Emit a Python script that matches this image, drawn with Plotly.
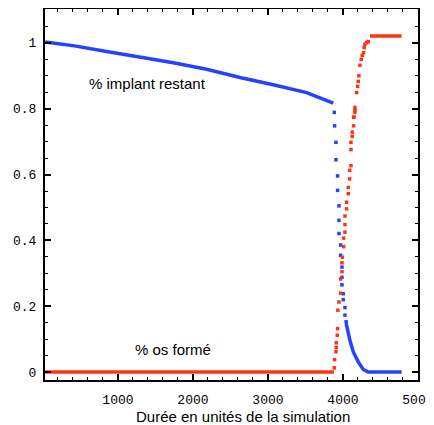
import plotly.graph_objects as go

# % implant restant (blue) - dense part drawn as a line, sparse drop as points
implant_dense_t = [30, 420, 849, 1293, 1738, 2182, 2627, 3071, 3516, 3871]
implant_dense_v = [1.003, 0.991, 0.974, 0.958, 0.940, 0.920, 0.895, 0.873, 0.849, 0.817]
implant_drop_t = [3884, 3889, 3907, 3907, 3929, 3929, 3947, 3947, 3947, 3969, 3969,
                  3987, 3987, 3987, 4004, 4004, 4027, 4027]
implant_drop_v = [0.789, 0.748, 0.698, 0.645, 0.596, 0.552, 0.505, 0.461, 0.421, 0.386,
                  0.355, 0.319, 0.288, 0.265, 0.238, 0.220, 0.196, 0.173]
implant_tail_t = [4040, 4049, 4093, 4137, 4204, 4271, 4337, 4783]
implant_tail_v = [0.158, 0.142, 0.097, 0.062, 0.031, 0.008, 0.0, 0.0]

# % os formé (red)
os_flat_t = [30, 3880]
os_flat_v = [0.0, 0.0]
os_rise_t = [3884, 3889, 3907, 3911, 3911, 3924, 3929, 3933, 3947, 3969, 3969, 3987,
             3987, 3991, 4009, 4009, 4027, 4027, 4027, 4049, 4049, 4071, 4071, 4089,
             4089, 4107, 4107, 4107, 4124, 4124, 4142, 4147, 4142, 4160, 4160, 4160,
             4183, 4196, 4204, 4213, 4227, 4244, 4257, 4276, 4284, 4293, 4316, 4337]
os_rise_v = [0.013, 0.038, 0.062, 0.075, 0.089, 0.112, 0.132, 0.188, 0.213, 0.24,
             0.283, 0.305, 0.332, 0.349, 0.381, 0.407, 0.425, 0.448, 0.474, 0.496,
             0.516, 0.542, 0.561, 0.587, 0.613, 0.627, 0.676, 0.698, 0.716, 0.729,
             0.748, 0.775, 0.774, 0.789, 0.797, 0.804, 0.849, 0.868, 0.883, 0.900,
             0.932, 0.950, 0.962, 0.970, 0.986, 0.996, 1.001, 1.004]
os_top_t = [4360, 4783]
os_top_v = [1.021, 1.021]

x_ticks = [1000, 2000, 3000, 4000, 5000]
y_ticks = [0, 0.2, 0.4, 0.6, 0.8, 1.0]
y_ticktext = ["0", "0.2", "0.4", "0.6", "0.8", "1"]

BLUE = "#2442ff"
RED = "#ff3414"
SANS = "Liberation Sans, Arial"

fig = go.Figure()
fig.add_trace(go.Scatter(x=implant_dense_t, y=implant_dense_v, mode="lines",
                         line=dict(color=BLUE, width=3.5)))
fig.add_trace(go.Scatter(x=implant_drop_t, y=implant_drop_v, mode="markers",
                         marker=dict(color=BLUE, size=3.5, symbol="square")))
fig.add_trace(go.Scatter(x=implant_tail_t, y=implant_tail_v, mode="lines",
                         line=dict(color=BLUE, width=3.5)))
fig.add_trace(go.Scatter(x=os_flat_t, y=os_flat_v, mode="lines",
                         line=dict(color=RED, width=3.5)))
fig.add_trace(go.Scatter(x=os_rise_t, y=os_rise_v, mode="markers",
                         marker=dict(color=RED, size=3.5, symbol="square")))
fig.add_trace(go.Scatter(x=os_top_t, y=os_top_v, mode="lines",
                         line=dict(color=RED, width=3.5)))

fig.add_annotation(x=1400, y=0.876, text="% implant restant", showarrow=False,
                   font=dict(family=SANS, size=15, color="black"))
fig.add_annotation(x=1737, y=0.07, text="% os formé", showarrow=False,
                   font=dict(family=SANS, size=15, color="black"))
# axis title placed by hand so it stays inside the page
fig.add_annotation(x=0.53, y=0, xref="paper", yref="paper", yshift=-36,
                   xanchor="center", yanchor="middle", showarrow=False,
                   text="Durée en unités de la simulation",
                   font=dict(family=SANS, size=15, color="black"))

tickfont = dict(family="Liberation Mono, Courier New", size=13, color="black")
fig.update_xaxes(range=[27, 5001], tickvals=x_ticks, ticks="inside", ticklen=6,
                 tickwidth=1.5, tickcolor="black", showline=True, linecolor="black",
                 linewidth=2, mirror="allticks", showgrid=False, zeroline=False,
                 tickfont=tickfont, ticklabelstandoff=6, automargin=False,
                 minor=dict(ticks="inside", dtick=200, ticklen=3, tickwidth=1,
                            tickcolor="black"))
fig.update_yaxes(range=[-0.024, 1.103], tickvals=y_ticks, ticktext=y_ticktext,
                 ticks="inside", ticklen=6, tickwidth=1.5, tickcolor="black",
                 showline=True, linecolor="black", linewidth=2, mirror="allticks",
                 showgrid=False, zeroline=False, tickfont=tickfont,
                 ticklabelstandoff=4, automargin=False,
                 minor=dict(ticks="inside", dtick=0.05, ticklen=3, tickwidth=1,
                            tickcolor="black"))

# the page body adds an 8px margin, so the figure is 8px smaller each way
fig.update_layout(width=426, height=417, showlegend=False,
                  margin=dict(l=37, r=16, t=1, b=45),
                  plot_bgcolor="white", paper_bgcolor="white")

fig.write_html("out.html")
